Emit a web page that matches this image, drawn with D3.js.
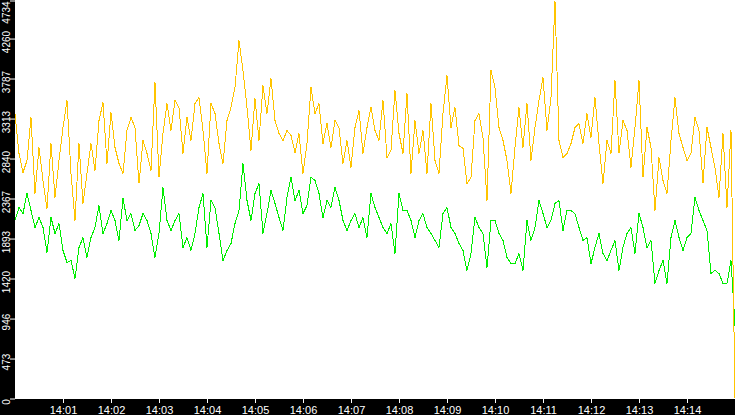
<!DOCTYPE html>
<html>
<head>
<meta charset="utf-8">
<script src="https://cdn.jsdelivr.net/npm/d3@7"></script>
<style>
  html, body { margin: 0; padding: 0; background: #fff; }
  #chart svg { display: block; }
</style>
</head>
<body>
<div id="chart"><svg></svg></div>
<script>
// samples every 5 seconds, 14:00:00 -> 14:15:00
let startTime = "14:00:00";
let stepSeconds = 5;

let yellowValues = [
    3373,2900,2675,2817,3326,2426,2971,2580,2249,3018,2379,2817,3207,3527,2663,2107,3018,2308,2663,3018,2698,3290,3503,2781,3385,2971,2781,2663,3172,3326,
    3207,2545,3053,2900,2698,3740,2616,3136,3491,3172,3527,3444,2900,3326,3053,3491,3562,3172,2663,3491,3373,3018,2781,3290,3444,3681,4237,3882,3444,2935,
    3551,3053,3704,3373,3787,3290,3136,3053,3172,3113,2911,3136,2663,3018,3681,3373,3491,3018,3255,2971,3290,3207,2781,3053,2734,3207,3408,2900,3207,3444,
    3172,3053,3527,2852,2935,3645,3136,2900,3610,2663,3290,2900,3172,2663,3491,2817,2663,3373,3823,3207,3444,2994,2959,2545,2616,3290,3373,3089,2343,3882,
    3681,3207,3053,2817,2426,2971,3444,2971,3491,2817,3207,3527,3799,3172,3562,4700,3053,2852,2900,3018,3207,3255,3018,3373,3089,3562,3018,2545,3053,2900,
    3764,2900,3290,3172,2734,3207,3764,2616,3207,2971,2225,2852,2580,2426,3053,3562,3136,2971,2817,2900,3326,3172,2545,3207,2971,2734,2379,3136,2260,3172,
    10
];

let greenValues = [
    2107,2260,2189,2426,2225,2024,2142,2024,1728,2142,1953,2071,1752,1610,1633,1420,1787,1905,1669,1905,2024,2284,1953,2071,2225,2107,1870,2367,2107,2189,
    1988,2047,2189,2107,1953,1669,1953,2497,2107,1988,2107,2189,1787,1905,1752,1953,2260,2426,1787,2343,2260,1953,1633,1752,1834,2071,2225,2781,2343,2107,
    2426,2545,1953,2189,2462,2308,2142,1988,2379,2616,2343,2462,2189,2284,2616,2580,2426,2142,2343,2260,2497,2343,2107,1988,2107,2189,2024,2142,1905,2426,
    2260,2142,2024,1953,2071,1716,2426,2225,2225,2107,1905,2107,2189,2024,1953,1870,1787,2189,2260,2024,1953,1834,1752,1515,1716,2142,2024,1953,1550,2107,
    2107,1953,1870,1669,1598,1598,1716,1515,2107,1870,2024,2343,2189,2024,2107,2308,2343,1988,2225,2225,2189,2024,1870,1905,1598,1787,1953,1716,1633,1752,
    1870,1515,1787,1953,2024,1716,2189,2024,1787,1870,1361,1515,1633,1361,1905,2107,1905,1752,1905,1953,2379,2225,2107,1988,1479,1515,1479,1361,1361,1633,
    864
];

let yTickValues = [0, 473, 946, 1420, 1893, 2367, 2840, 3313, 3787, 4260, 4734];
let xTickLabels = ["14:01","14:02","14:03","14:04","14:05","14:06","14:07","14:08","14:09","14:10","14:11","14:12","14:13","14:14"];

let series = [
    {name: "green", color: "#00ee00", values: greenValues},
    {name: "yellow", color: "#ffc400", values: yellowValues}
];

let W = 735, H = 415;
let margin = {top: 0, right: 0, bottom: 17, left: 15};
let parseTime = d3.timeParse("%H:%M:%S");
let t0 = parseTime(startTime);

let svg = d3.select("#chart svg").attr("width", W).attr("height", H);

let x = d3.scaleTime()
    .domain([t0, d3.timeSecond.offset(t0, stepSeconds * (yellowValues.length - 1))])
    .range([margin.left, W]);

let y = d3.scaleLinear()
    .domain([0, 4734])
    .range([398.5, -1.5]);

// black frame on the left and bottom
svg.append("rect").attr("x", 0).attr("y", 0).attr("width", W).attr("height", H).attr("fill", "#000");
svg.append("rect").attr("x", margin.left).attr("y", 0)
    .attr("width", W - margin.left).attr("height", 399).attr("fill", "#fff");

svg.append("clipPath").attr("id", "plotclip")
    .append("rect").attr("x", margin.left).attr("y", 0).attr("width", W - margin.left).attr("height", 399);

let line = d3.line()
    .x((d, i) => x(d3.timeSecond.offset(t0, i * stepSeconds)))
    .y(d => y(d));

svg.append("g").attr("clip-path", "url(#plotclip)")
    .selectAll("path")
    .data(series)
    .enter()
    .append("path")
    .attr("d", d => line(d.values))
    .attr("fill", "none")
    .attr("stroke", d => d.color)
    .attr("stroke-width", 1)
    .attr("shape-rendering", "crispEdges");

// y axis: rotated white labels in the black band
let yAxis = svg.append("g").attr("transform", "translate(15,0)")
    .call(d3.axisLeft(y).tickValues(yTickValues).tickSize(5).tickFormat(d3.format("d")));
yAxis.select(".domain").remove();
yAxis.selectAll("line").attr("stroke", "#fff").attr("transform", d => d === 4734 ? "translate(0,2)" : null);
yAxis.selectAll("text")
    .attr("fill", "#fff")
    .attr("font-family", "Liberation Sans, Arial, sans-serif")
    .attr("font-size", 10)
    .attr("text-anchor", "middle")
    .attr("dy", null)
    .attr("x", null)
    .attr("transform", d => {
        let ty = Math.max(y(d) + 3, 12);
        return "translate(-5," + (ty - y(d)) + ") rotate(-90)";
    });

// x axis: one tick per minute
let xTicks = xTickLabels.map(s => parseTime(s + ":00"));
let xAxis = svg.append("g").attr("transform", "translate(0,399)")
    .call(d3.axisBottom(x).tickValues(xTicks).tickSize(4).tickFormat(d3.timeFormat("%H:%M")));
xAxis.select(".domain").remove();
xAxis.selectAll("line").attr("stroke", "#fff");
xAxis.selectAll("text")
    .attr("fill", "#fff")
    .attr("font-family", "Liberation Sans, Arial, sans-serif")
    .attr("font-size", 11)
    .attr("y", 15)
    .attr("dy", null);
</script>
</body>
</html>
